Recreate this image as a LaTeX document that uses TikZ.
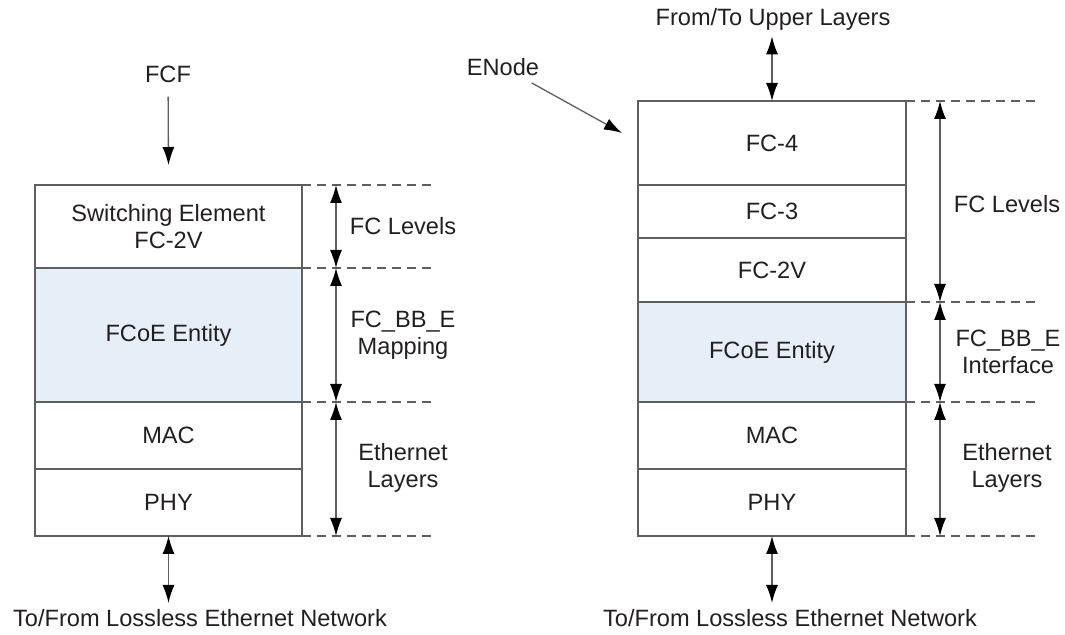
\documentclass[tikz,border=0pt]{standalone}
\usepackage{fontspec}
\setmainfont{Liberation Sans}
\usetikzlibrary{arrows.meta}
\definecolor{layerline}{RGB}{95,95,95}
\definecolor{entity}{RGB}{230,238,248}
\definecolor{ink}{RGB}{35,31,32}

\begin{document}
\begin{tikzpicture}[x=0.5pt,y=-0.5pt,>={Latex[length=9pt,width=6pt,color=black]},
    layer/.style={draw=layerline,line width=0.65pt,rectangle,outer sep=0pt,inner sep=0pt,
        text=ink,align=center,font=\fontsize{11.8}{13.5}\selectfont},
    lbl/.style={text=ink,align=center,inner sep=1pt,font=\fontsize{11.8}{13.5}\selectfont},
    guide/.style={draw=layerline,line width=0.65pt,dash pattern=on 4.5pt off 3pt},
    dim/.style={<->,draw=layerline,line width=0.65pt},
    ptr/.style={->,draw=layerline,line width=0.65pt}]
    \useasboundingbox (0,0) rectangle (1065,635);

    %% FCF stack
    \node [layer,minimum width=133.5pt,minimum height=41.5pt] (sw) at (168.5,226.5) {Switching Element\\FC-2V};
    \node [layer,minimum width=133.5pt,minimum height=67pt,fill=entity] (fcoeA) at (168.5,335) {FCoE Entity};
    \node [layer,minimum width=133.5pt,minimum height=33.5pt] (macA) at (168.5,435.5) {MAC};
    \node [layer,minimum width=133.5pt,minimum height=33.5pt] (phyA) at (168.5,502.5) {PHY};

    \node [lbl] (fcf) at (168,74) {FCF};
    \draw [ptr,shorten <=6pt] (fcf) -- ([yshift=10pt]sw.north);

    \node [lbl] (netA) at (200,618) {To/From Lossless Ethernet Network};
    \draw [dim,shorten >=2pt] (phyA.south) -- (phyA.south |- netA.north);

    %% FCF levels
    \foreach \n in {sw.north east,fcoeA.north east,macA.north east,phyA.south east}
        \draw [guide] (\n) -- ++(133,0);
    \draw [dim] ([xshift=17pt]sw.north east) -- ([xshift=17pt]sw.south east);
    \draw [dim] ([xshift=17pt]fcoeA.north east) -- ([xshift=17pt]fcoeA.south east);
    \draw [dim] ([xshift=17pt]macA.north east) -- ([xshift=17pt]phyA.south east);

    \node [lbl] (fclevA) at (403,226) {FC Levels};
    \node [lbl] (bbA) at (403,335) {FC\_BB\_E\\Mapping};
    \node [lbl] (ethA) at (403,468) {Ethernet\\Layers};

    %% ENode stack
    \node [layer,minimum width=134pt,minimum height=42pt] (fcfour) at (772,143) {FC-4};
    \node [layer,minimum width=134pt,minimum height=26.5pt] (fcthree) at (772,211.5) {FC-3};
    \node [layer,minimum width=134pt,minimum height=32pt] (fctwo) at (772,270) {FC-2V};
    \node [layer,minimum width=134pt,minimum height=50pt,fill=entity] (fcoeB) at (772,352) {FCoE Entity};
    \node [layer,minimum width=134pt,minimum height=33.5pt] (macB) at (772,435.5) {MAC};
    \node [layer,minimum width=134pt,minimum height=33.5pt] (phyB) at (772,502.5) {PHY};

    \node [lbl] (upper) at (773,19) {From/To Upper Layers};
    \draw [dim,shorten <=2pt] (upper.south -| fcfour.north) -- (fcfour.north);

    \node [lbl] (enode) at (503,67) {ENode};
    \coordinate (enodetip) at (622,133);
    \draw [ptr,shorten <=5pt] (enode) -- (enodetip);

    \node [lbl] (netB) at (790,618) {To/From Lossless Ethernet Network};
    \draw [dim,shorten >=2pt] (phyB.south) -- (phyB.south |- netB.north);

    %% ENode levels
    \foreach \n in {fcfour.north east,fcoeB.north east,macB.north east,phyB.south east}
        \draw [guide] (\n) -- ++(134,0);
    \draw [dim] ([xshift=17pt]fcfour.north east) -- ([xshift=17pt]fctwo.south east);
    \draw [dim] ([xshift=17pt]fcoeB.north east) -- ([xshift=17pt]fcoeB.south east);
    \draw [dim] ([xshift=17pt]macB.north east) -- ([xshift=17pt]phyB.south east);

    \node [lbl] (fclevB) at (1007,204) {FC Levels};
    \node [lbl] (bbB) at (1008,352) {FC\_BB\_E\\Interface};
    \node [lbl] (ethB) at (1007,468) {Ethernet\\Layers};
\end{tikzpicture}
\end{document}
